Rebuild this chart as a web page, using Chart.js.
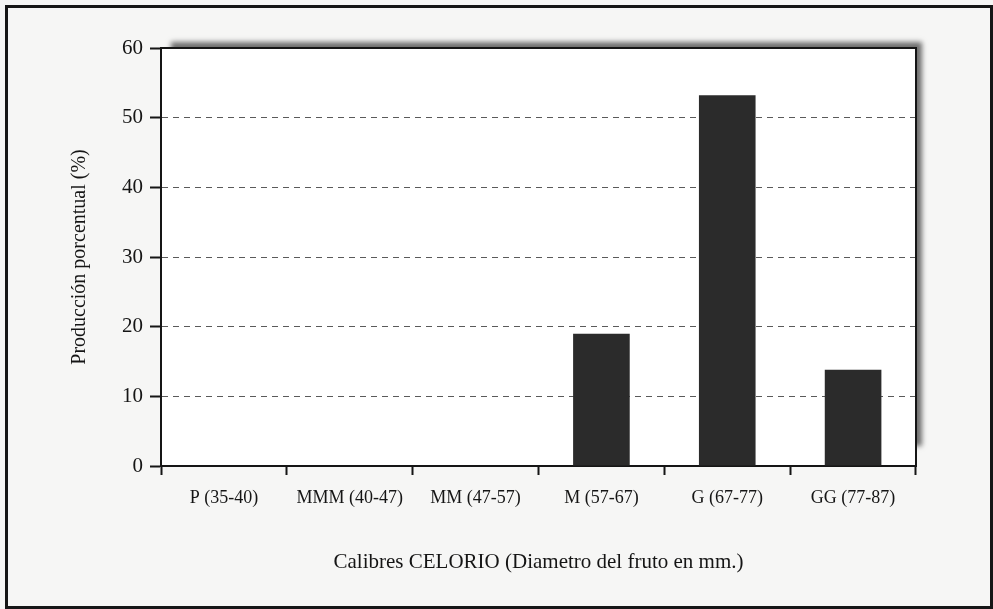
<!DOCTYPE html>
<html>
<head>
<meta charset="utf-8">
<script src="https://cdn.jsdelivr.net/npm/chart.js@4/dist/chart.umd.min.js"></script>
<style>
  html, body { margin: 0; padding: 0; background: #f6f6f5; }
  #wrap { width: 993px; height: 609px; position: relative; }
</style>
</head>
<body>
<div id="wrap"><canvas id="c" width="993" height="609"></canvas></div>
<script>
// Fruit size classes (CELORIO calibres) and share of production per class
const calibres = ['P (35-40)', 'MMM (40-47)', 'MM (47-57)', 'M (57-67)', 'G (67-77)', 'GG (77-87)'];
const produccion = [0, 0, 0, 19, 53.2, 13.8];
const yTicks = [0, 10, 20, 30, 40, 50, 60];

const SERIF = '"Liberation Serif", "Times New Roman", serif';
const INK = '#151515';

// Page frame, drop shadow behind the plot box and the box itself
const framePlugin = {
  id: 'frame',
  beforeDraw(chart) {
    const { ctx, chartArea: a } = chart;
    ctx.save();
    ctx.fillStyle = '#f6f6f5';
    ctx.fillRect(0, 0, chart.width, chart.height);
    // shadow cast up and to the right
    ctx.shadowColor = 'rgba(0,0,0,0.55)';
    ctx.shadowBlur = 5;
    ctx.shadowOffsetX = 6;
    ctx.shadowOffsetY = -6;
    ctx.fillStyle = '#ffffff';
    ctx.fillRect(a.left + 4, a.top, a.right - a.left - 4, a.bottom - a.top - 14);
    ctx.shadowColor = 'transparent';
    ctx.fillRect(a.left, a.top, a.right - a.left, a.bottom - a.top);
    ctx.restore();
  },
  afterDraw(chart) {
    const { ctx, chartArea: a } = chart;
    ctx.save();
    ctx.strokeStyle = INK;
    ctx.lineWidth = 2;
    ctx.beginPath();
    ctx.moveTo(a.left, a.top);
    ctx.lineTo(a.right, a.top);
    ctx.lineTo(a.right, a.bottom);
    ctx.stroke();
    ctx.lineWidth = 3;
    ctx.strokeStyle = '#161616';
    ctx.strokeRect(6.5, 6.5, 985, 601);
    ctx.restore();
  }
};

new Chart(document.getElementById('c'), {
  type: 'bar',
  data: {
    labels: calibres,
    datasets: [{
      data: produccion,
      backgroundColor: '#2b2b2b',
      borderWidth: 0,
      barPercentage: 0.45,
      categoryPercentage: 1
    }]
  },
  options: {
    responsive: false,
    animation: false,
    devicePixelRatio: 1,
    layout: { padding: { left: 0, top: 48, right: 77, bottom: 0 } },
    plugins: { legend: { display: false }, tooltip: { enabled: false } },
    scales: {
      x: {
        afterFit(scale) { scale.height = 143; },
        grid: {
          offset: true,
          drawOnChartArea: false,
          drawTicks: true,
          tickLength: 9,
          tickColor: INK,
          tickWidth: 2
        },
        border: { display: true, color: INK, width: 2 },
        ticks: {
          color: INK,
          padding: 12,
          maxRotation: 0,
          autoSkip: false,
          font: { family: SERIF, size: 18 }
        },
        title: {
          display: true,
          text: 'Calibres CELORIO (Diametro del fruto en mm.)',
          color: INK,
          font: { family: SERIF, size: 21 },
          padding: { top: 0, bottom: 34 }
        }
      },
      y: {
        min: 0,
        max: 60,
        afterFit(scale) { scale.width = 161; },
        afterBuildTicks(scale) { scale.ticks = yTicks.map(v => ({ value: v })); },
        grid: {
          color: c => (c.tick && (c.tick.value === 0 || c.tick.value === 60)) ? 'rgba(0,0,0,0)' : '#5a5a5a',
          lineWidth: 1,
          tickLength: 11,
          tickColor: INK,
          tickWidth: 2
        },
        border: { display: true, color: INK, width: 2, dash: [6, 5] },
        ticks: {
          color: INK,
          padding: 7,
          font: { family: SERIF, size: 21 }
        },
        title: {
          display: true,
          text: 'Producción porcentual (%)',
          color: INK,
          font: { family: SERIF, size: 20 },
          padding: { top: 68, bottom: 0 }
        }
      }
    }
  },
  plugins: [framePlugin]
});
</script>
</body>
</html>
